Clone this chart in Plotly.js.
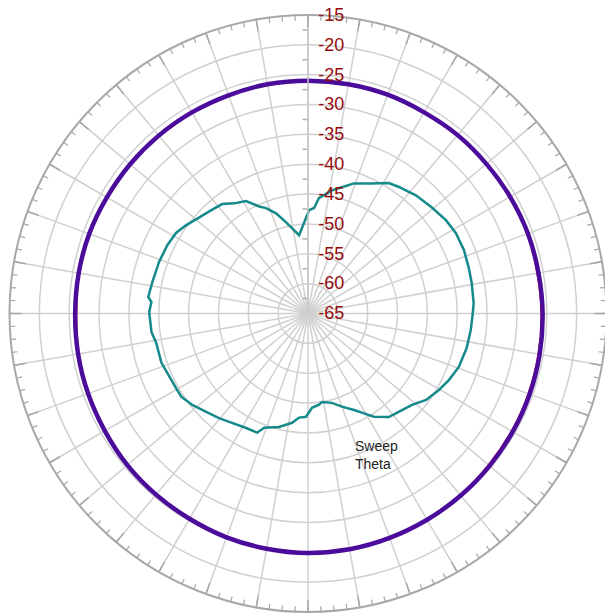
<!DOCTYPE html>
<html>
<head>
<meta charset="utf-8">
<script src="https://cdn.plot.ly/plotly-3.0.1.min.js"></script>
<style>
html,body{margin:0;padding:0;overflow:hidden;background:#fff;}
#chart{width:610px;height:614px;}
</style>
</head>
<body>
<div id="chart"></div>
<script>
// Radial scale (dB) tick labels
var radialTicks = [-65, -60, -55, -50, -45, -40, -35, -30, -25, -20, -15];
var radialMinorTicks = [-62.5, -57.5, -52.5, -47.5, -42.5, -37.5, -32.5, -27.5, -22.5, -17.5];

// Purple and red near-circular traces (theta in degrees)
var circTheta = [0,10,20,30,40,50,60,70,80,90,100,110,120,130,140,150,160,170,180,190,200,210,220,230,240,250,260,270,280,290,300,310,320,330,340,350,360];
var purpleR = [-25.7,-25.8,-25.8,-25.9,-26.0,-26.0,-26.1,-26.0,-26.0,-26.0,-26.0,-26.1,-26.1,-26.1,-26.1,-26.1,-26.0,-26.0,-26.0,-25.9,-25.8,-25.7,-25.5,-25.4,-25.3,-25.1,-25.0,-24.9,-24.9,-25.0,-25.1,-25.2,-25.3,-25.4,-25.5,-25.6,-25.7];
var redR = [-25.9,-26.0,-25.9,-26.0,-26.1,-26.1,-26.2,-26.1,-26.1,-26.1,-26.1,-26.2,-26.2,-26.2,-26.2,-26.1,-26.1,-26.1,-26.2,-26.0,-25.9,-25.8,-25.6,-25.5,-25.4,-25.2,-25.1,-25.0,-25.0,-25.1,-25.2,-25.3,-25.5,-25.6,-25.7,-25.8,-25.9];

// Teal measured pattern
var tealTheta = [0,3.6,10.5,16.1,22.1,28.5,34.1,40.7,47.6,54.3,58.2,64.2,70.6,75,79,84.6,86.7,89.4,96.5,103.5,107.7,111.7,114.5,118.9,123.8,128.1,133.1,138.5,144,148.6,154.1,160.9,168.6,174.1,175.8,179.5,186.7,191,198.6,204.6,209.4,213.3,218.3,224,229.6,235.2,241.6,246.9,249,255.7,261.7,265.1,268.9,272.4,276.9,279,285,290,295.5,298.5,302.5,308,312.7,318.7,323.8,329.7,334.7,340.5,347.8,354.2,360];
var tealR = [-37.4,-37.2,-37.1,-37.0,-36.8,-36.8,-37.1,-37.7,-38.2,-38.9,-39.3,-40.8,-41.9,-43.1,-44.0,-45.6,-47.3,-47.7,-51.8,-49.3,-47.4,-46.0,-45.3,-43.5,-42.8,-41.7,-41.3,-40.7,-39.8,-39.1,-38.8,-38.6,-38.4,-38.1,-38.7,-38.4,-38.6,-39.1,-39.1,-39.5,-39.6,-39.6,-40.3,-41.3,-42.0,-42.7,-43.2,-43.3,-44.5,-45.4,-46.5,-47.5,-47.7,-49.2,-49.6,-50.0,-49.5,-48.4,-47.1,-46.1,-44.5,-43.0,-42.6,-41.8,-40.5,-39.6,-38.9,-38.2,-37.8,-37.6,-37.4];

var W = 610, H = 614;
var cx = 308, cy = 313.5, rad = 298.5;
var dom = {x: [(cx - rad) / W, (cx + rad) / W], y: [(H - (cy + rad)) / H, (H - (cy - rad)) / H]};

var traces = [
  {type: 'scatterpolar', subplot: 'polar', r: redR, theta: circTheta, mode: 'lines',
   line: {color: '#ff1010', width: 2, shape: 'spline'}, hoverinfo: 'skip'},
  {type: 'scatterpolar', subplot: 'polar', r: purpleR, theta: circTheta, mode: 'lines',
   line: {color: '#4b0c9c', width: 4.5, shape: 'spline'}, hoverinfo: 'skip'},
  {type: 'scatterpolar', subplot: 'polar', r: tealR, theta: tealTheta, mode: 'lines',
   line: {color: '#16898a', width: 2.5}, hoverinfo: 'skip'},
  {type: 'scatterpolar', subplot: 'polar2', r: [-65], theta: [0], mode: 'lines',
   line: {color: 'rgba(0,0,0,0)'}, hoverinfo: 'skip'}
];

var layout = {
  width: W, height: H,
  margin: {l: 0, r: 0, t: 0, b: 0},
  paper_bgcolor: '#ffffff',
  showlegend: false,
  polar: {
    domain: dom,
    bgcolor: '#ffffff',
    radialaxis: {
      range: [-65, -15], angle: 90, side: 'clockwise',
      tickvals: radialTicks, ticktext: radialTicks.map(String),
      ticks: 'outside', ticklen: 6, tickcolor: 'rgba(0,0,0,0)',
      tickangle: 90,
      tickfont: {family: 'Liberation Sans, Arial, sans-serif', size: 18, color: '#950c0c'},
      showline: true, linecolor: '#c8c8c8', linewidth: 1.5,
      showgrid: true, gridcolor: '#d0d0d0', gridwidth: 1.5
    },
    angularaxis: {
      direction: 'counterclockwise', rotation: 0,
      tickmode: 'linear', tick0: 0, dtick: 10,
      ticks: 'inside', ticklen: 11, tickcolor: '#a8a8a8', tickwidth: 1.5,
      showticklabels: false,
      showline: true, linecolor: '#a8a8a8', linewidth: 2,
      showgrid: true, gridcolor: '#d0d0d0', gridwidth: 1.5
    }
  },
  polar2: {
    domain: dom,
    bgcolor: 'rgba(0,0,0,0)',
    radialaxis: {
      range: [-65, -15], angle: 90, side: 'counterclockwise',
      tickvals: radialMinorTicks, ticks: 'outside', ticklen: 5, tickcolor: '#b0b0b0', tickwidth: 1.5,
      showticklabels: false, showline: false, showgrid: false
    },
    angularaxis: {
      direction: 'counterclockwise', rotation: 0,
      tickmode: 'linear', tick0: 0, dtick: 2.5,
      ticks: 'inside', ticklen: 5, tickcolor: '#a8a8a8', tickwidth: 1.2,
      showticklabels: false, showline: false, showgrid: false
    }
  },
  annotations: [{
    xref: 'paper', yref: 'paper', x: 353 / W, y: 1 - 436 / H,
    xanchor: 'left', yanchor: 'top', align: 'left', showarrow: false,
    text: 'Sweep<br>Theta',
    font: {family: 'Liberation Sans, Arial, sans-serif', size: 14, color: '#222222'}
  }]
};

Plotly.newPlot('chart', traces, layout, {staticPlot: true, displayModeBar: false});
</script>
</body>
</html>
